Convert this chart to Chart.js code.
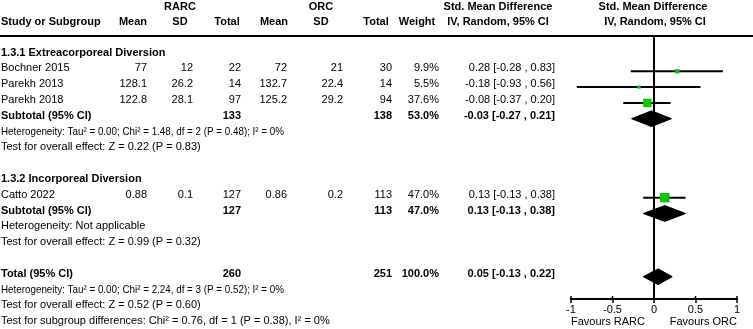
<!DOCTYPE html>
<html>
<head>
<meta charset="utf-8">
<script src="https://cdn.jsdelivr.net/npm/chart.js@4.4.0/dist/chart.umd.min.js"></script>
<style>
  html, body { margin: 0; padding: 0; background: #fff; }
  canvas { display: block; }
</style>
</head>
<body>
<canvas id="forest" width="753" height="329"></canvas>
<script>
// study level data
const studies = ["Bochner 2015", "Parekh 2013", "Parekh 2018", "Catto 2022"];
const studyRows = [1, 2, 3, 9];
const rarcMean = [77, 128.1, 122.8, 0.88];
const rarcSD = [12, 26.2, 28.1, 0.1];
const rarcTotal = [22, 14, 97, 127];
const orcMean = [72, 132.7, 125.2, 0.86];
const orcSD = [21, 22.4, 29.2, 0.2];
const orcTotal = [30, 14, 94, 113];
const weight = [9.9, 5.5, 37.6, 47.0];
const smd = [0.28, -0.18, -0.08, 0.13];
const ciLow = [-0.28, -0.93, -0.37, -0.13];
const ciHigh = [0.83, 0.56, 0.20, 0.38];

// subgroups
const groupNames = ["1.3.1 Extreacorporeal Diversion", "1.3.2 Incorporeal Diversion"];
const groupRows = [0, 8];
const subRows = [4, 10];
const subRarcTotal = [133, 127];
const subOrcTotal = [138, 113];
const subWeight = [53.0, 47.0];
const subSmd = [-0.03, 0.13];
const subLow = [-0.27, -0.13];
const subHigh = [0.21, 0.38];
const subHet = [
  "Heterogeneity: Tau\u00b2 = 0.00; Chi\u00b2 = 1.48, df = 2 (P = 0.48); I\u00b2 = 0%",
  "Heterogeneity: Not applicable"
];
const subTest = [
  "Test for overall effect: Z = 0.22 (P = 0.83)",
  "Test for overall effect: Z = 0.99 (P = 0.32)"
];

// overall
const totalRow = 14;
const totalRarc = 260;
const totalOrc = 251;
const totalWeight = 100.0;
const totalSmd = 0.05;
const totalLow = -0.13;
const totalHigh = 0.22;
const totalNotes = [
  "Heterogeneity: Tau\u00b2 = 0.00; Chi\u00b2 = 2.24, df = 3 (P = 0.52); I\u00b2 = 0%",
  "Test for overall effect: Z = 0.52 (P = 0.60)",
  "Test for subgroup differences: Chi\u00b2 = 0.76, df = 1 (P = 0.38), I\u00b2 = 0%"
];

// headers and axis
const armHeads = ["RARC", "ORC"];
const colHeads = ["Mean", "SD", "Total", "Mean", "SD", "Total", "Weight"];
const effectHead = ["Std. Mean Difference", "IV, Random, 95% CI"];
const xTicks = [-1, -0.5, 0, 0.5, 1];
const favours = ["Favours RARC", "Favours ORC"];

// layout
const colRight = [147, 193, 241, 287, 343, 392, 439, 555];
const headCenter = [133, 180, 227, 274, 321, 376, 417];
const armCenter = [180, 321];
const TEXT_LIFT = 3;
const HET_WIDTH = 283; // the Tau/Chi lines are set tighter in the original
const FONT = '"Liberation Sans", Arial, sans-serif';

const fmt2 = v => v.toFixed(2);
const ciText = (e, lo, hi) => fmt2(e) + " [" + fmt2(lo) + " , " + fmt2(hi) + "]";
const pct = w => w.toFixed(1) + "%";

const datasets = [];

// squares
datasets.push({
  type: "scatter",
  data: studies.map((s, i) => ({ x: smd[i], y: studyRows[i] })),
  pointStyle: "rect",
  pointRadius: studies.map((s, i) => Math.sqrt(weight[i]) * 0.97),
  backgroundColor: "#00c800",
  borderWidth: 0,
  order: 0
});

// confidence interval lines
studies.forEach((s, i) => {
  datasets.push({
    type: "line",
    data: [{ x: ciLow[i], y: studyRows[i] }, { x: ciHigh[i], y: studyRows[i] }],
    borderColor: "#000",
    borderWidth: 2,
    pointRadius: 0,
    order: 1
  });
});

// diamonds for pooled estimates
function diamond(e, lo, hi, row) {
  const h = 0.5;
  return {
    type: "line",
    data: [
      { x: lo, y: row }, { x: e, y: row - h }, { x: hi, y: row },
      { x: e, y: row + h }, { x: lo, y: row }
    ],
    borderColor: "#000",
    backgroundColor: "#000",
    borderWidth: 1,
    pointRadius: 0,
    fill: "shape",
    order: 1
  };
}
subRows.forEach((r, g) => datasets.push(diamond(subSmd[g], subLow[g], subHigh[g], r)));
datasets.push(diamond(totalSmd, totalLow, totalHigh, totalRow));

const tablePlugin = {
  id: "forestTable",
  afterDraw(chart) {
    const ctx = chart.ctx;
    const ys = chart.scales.y;
    const xs = chart.scales.x;
    const area = chart.chartArea;
    const rowY = r => ys.getPixelForValue(r) - TEXT_LIFT;

    function txt(s, x, y, align, bold, maxW) {
      ctx.font = (bold ? "bold " : "") + "11px " + FONT;
      ctx.textAlign = align;
      s = String(s);
      if (maxW && ctx.measureText(s).width > maxW) ctx.fillText(s, x, y, maxW);
      else ctx.fillText(s, x, y);
    }
    const note = (s, y) => txt(s, 1, y, "left", false, s.indexOf("Tau") >= 0 ? HET_WIDTH : 0);

    ctx.save();
    ctx.fillStyle = "#000";
    ctx.textBaseline = "middle";

    // header
    armHeads.forEach((h, i) => txt(h, armCenter[i], 7, "center", true));
    txt("Study or Subgroup", 1, 22, "left", true);
    colHeads.forEach((h, i) => txt(h, headCenter[i], 22, "center", true));
    txt(effectHead[0], 498, 7, "center", true);
    txt(effectHead[1], 498, 22, "center", true);
    const mid = xs.getPixelForValue(0);
    txt(effectHead[0], mid - 1, 7, "center", true);
    txt(effectHead[1], mid + 1, 22, "center", true);

    ctx.strokeStyle = "#000";
    ctx.lineWidth = 2;
    ctx.beginPath();
    ctx.moveTo(0, area.top);
    ctx.lineTo(chart.width, area.top);
    ctx.stroke();

    // small tick marks above the axis line
    ctx.lineWidth = 1.5;
    xTicks.forEach(v => {
      const px = xs.getPixelForValue(v);
      ctx.beginPath();
      ctx.moveTo(px, area.bottom - 3);
      ctx.lineTo(px, area.bottom);
      ctx.stroke();
    });

    // groups
    groupNames.forEach((g, i) => txt(g, 1, rowY(groupRows[i]), "left", true));

    // studies
    studies.forEach((s, i) => {
      const y = rowY(studyRows[i]);
      txt(s, 1, y, "left", false);
      const cells = [rarcMean[i], rarcSD[i], rarcTotal[i], orcMean[i], orcSD[i], orcTotal[i],
        pct(weight[i]), ciText(smd[i], ciLow[i], ciHigh[i])];
      cells.forEach((c, k) => txt(c, colRight[k], y, "right", false));
    });

    // subtotals
    subRows.forEach((r, g) => {
      const y = rowY(r);
      txt("Subtotal (95% CI)", 1, y, "left", true);
      txt(subRarcTotal[g], colRight[2], y, "right", true);
      txt(subOrcTotal[g], colRight[5], y, "right", true);
      txt(pct(subWeight[g]), colRight[6], y, "right", true);
      txt(ciText(subSmd[g], subLow[g], subHigh[g]), colRight[7], y, "right", true);
      note(subHet[g], rowY(r + 1));
      note(subTest[g], rowY(r + 2));
    });

    // total
    const ty = rowY(totalRow);
    txt("Total (95% CI)", 1, ty, "left", true);
    txt(totalRarc, colRight[2], ty, "right", true);
    txt(totalOrc, colRight[5], ty, "right", true);
    txt(pct(totalWeight), colRight[6], ty, "right", true);
    txt(ciText(totalSmd, totalLow, totalHigh), colRight[7], ty, "right", true);
    totalNotes.forEach((n, k) => note(n, rowY(totalRow + 1 + k)));

    // favours labels
    txt(favours[0], xs.getPixelForValue(-1), area.bottom + 23, "left", false);
    txt(favours[1], xs.getPixelForValue(1), area.bottom + 23, "right", false);
    ctx.restore();
  }
};

new Chart(document.getElementById("forest"), {
  type: "scatter",
  data: { datasets: datasets },
  options: {
    responsive: false,
    animation: false,
    devicePixelRatio: 1,
    layout: { padding: { left: 571, right: 16, top: 36, bottom: 12.8 } },
    plugins: { legend: { display: false }, tooltip: { enabled: false } },
    scales: {
      x: {
        type: "linear",
        min: xTicks[0],
        max: xTicks[xTicks.length - 1],
        afterBuildTicks: axis => { axis.ticks = xTicks.map(v => ({ value: v })); },
        grid: {
          color: c => (c.tick && c.tick.value === 0 ? "#000" : "rgba(0,0,0,0)"),
          lineWidth: 2,
          tickColor: "#000",
          tickLength: 4,
          tickWidth: 1.5
        },
        border: { display: true, color: "#000", width: 2 },
        ticks: {
          color: "#000",
          padding: 0,
          maxRotation: 0,
          autoSkip: false,
          font: { family: FONT, size: 11 },
          callback: v => String(v)
        }
      },
      y: {
        type: "linear",
        display: false,
        reverse: true,
        min: -1.234,
        max: 15.411
      }
    }
  },
  plugins: [tablePlugin]
});
</script>
</body>
</html>
